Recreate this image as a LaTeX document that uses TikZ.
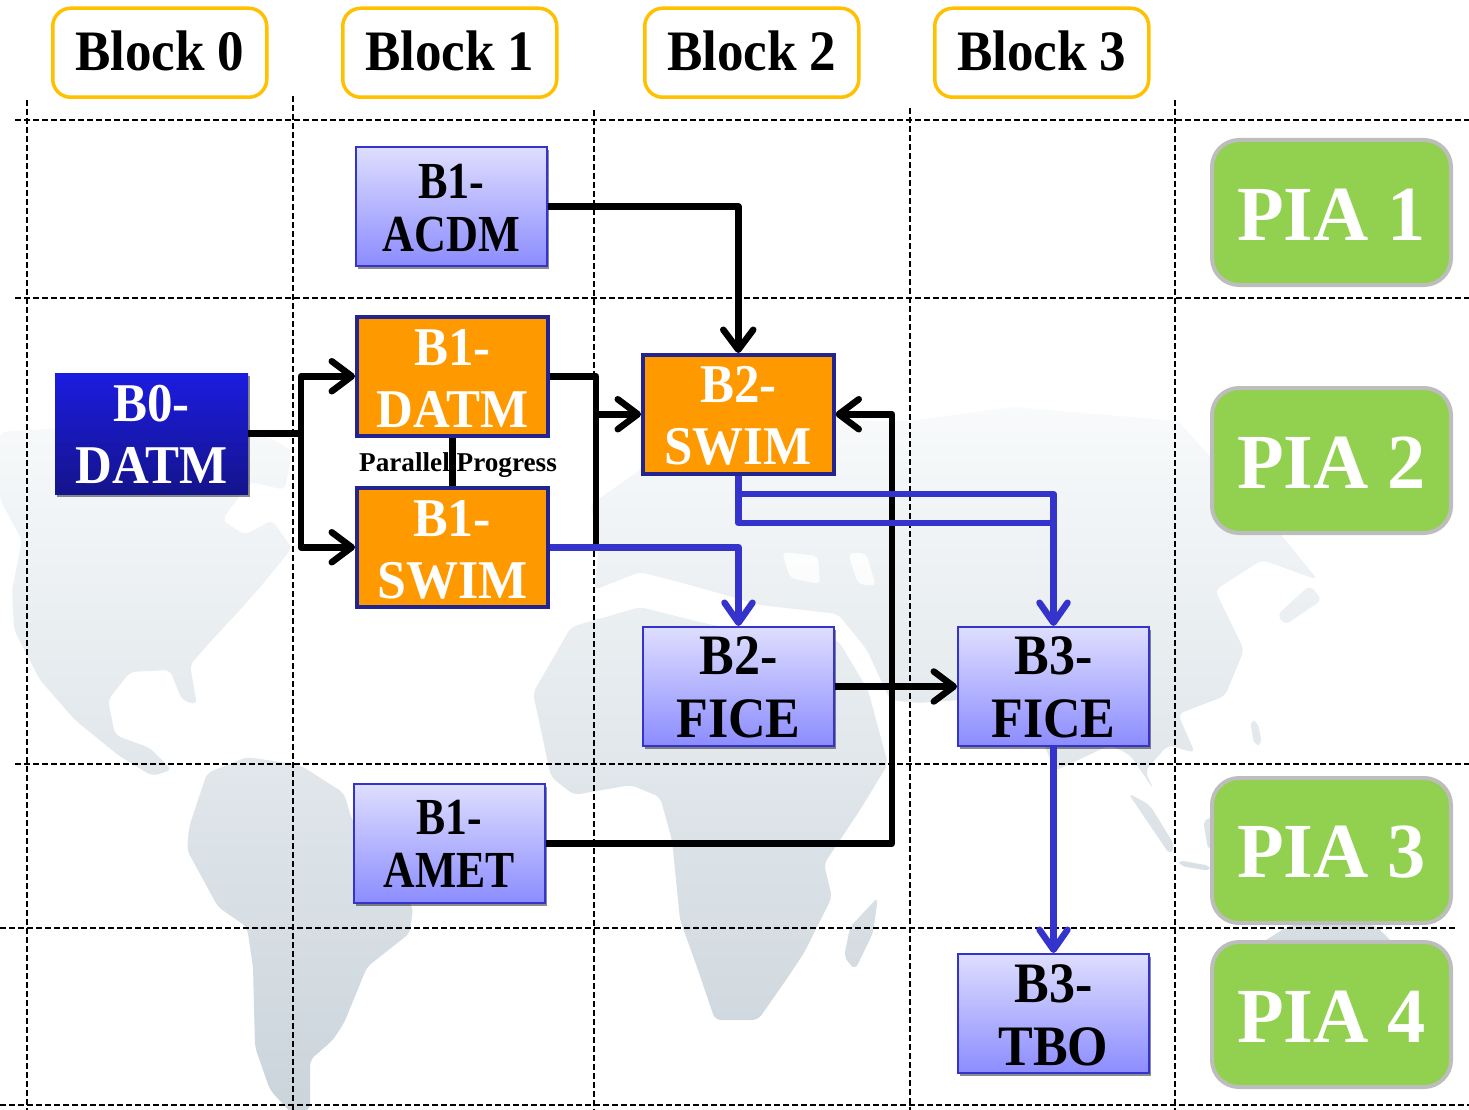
\documentclass[tikz,border=0pt]{standalone}
\usepackage{fontspec}
\setmainfont{Liberation Serif}
\usetikzlibrary{arrows.meta,shadows}
\definecolor{blueline}{HTML}{3434CC}
\definecolor{orangefill}{HTML}{FF9900}
\definecolor{orangeline}{HTML}{24248F}
\definecolor{blockline}{HTML}{FFC000}
\definecolor{piafill}{HTML}{92D050}
\definecolor{pialine}{HTML}{BDBDBD}
\definecolor{mapa}{HTML}{F8FAFB}
\definecolor{mapb}{HTML}{D3E3E7}
\definecolor{mapc}{HTML}{CAD4DB}
\definecolor{palea}{HTML}{DEDEFF}
\definecolor{paleb}{HTML}{8C8CFF}
\definecolor{darka}{HTML}{1C1CE0}
\definecolor{darkb}{HTML}{14148C}
% sx, sy, baseline, lowering, line 1, line 2
\newcommand{\twolines}[6]{\raisebox{-#4pt}[0pt][0pt]{\makebox[0pt]{\scalebox{#1}[#2]{\fontsize{52}{#3}\selectfont\bfseries\begin{tabular}{@{}c@{}}#5\\#6\end{tabular}}}}}
\newcommand{\blocktext}[1]{\raisebox{0pt}[\height][\dimexpr\depth+4pt]{\scalebox{1.02}[1.1]{\fontsize{52}{53}\selectfont\bfseries #1}}}
\newcommand{\piatext}[1]{\raisebox{0pt}[\dimexpr\height+4pt][\depth]{\scalebox{.98}[1]{\fontsize{78}{80}\selectfont\bfseries #1}}}
\tikzset{
  gridline/.style={line width=2.1pt,dash pattern=on 6pt off 3pt,black},
  taskbox/.style={rectangle,minimum width=191pt,minimum height=119pt,inner sep=0pt,anchor=north west},
  paleblue/.style={taskbox,draw=blueline,line width=2pt,top color=palea,bottom color=paleb,text=black,
    drop shadow={opacity=.45,fill=black,shadow xshift=1.5pt,shadow yshift=-3pt}},
  orangebox/.style={taskbox,draw=orangeline,line width=3.5pt,fill=orangefill,text=white},
  darkbox/.style={taskbox,minimum width=193pt,minimum height=121pt,top color=darka,bottom color=darkb,text=white,
    drop shadow={opacity=.45,fill=black,shadow xshift=1.5pt,shadow yshift=-3pt}},
  blockbox/.style={rectangle,rounded corners=18pt,draw=blockline,line width=3.5pt,fill=white,minimum width=214pt,minimum height=89pt,inner sep=0pt,anchor=north west},
  piabox/.style={rectangle,rounded corners=27pt,draw=pialine,line width=4pt,fill=piafill,minimum width=239pt,minimum height=145pt,inner sep=0pt,anchor=north west,text=white},
  blk/.style={draw=black,line width=6.5pt,line join=round},
  blu/.style={draw=blueline,line width=6.5pt,line join=round},
  blkarrow/.style={blk,-{Straight Barb[length=20pt,width=30pt,round]}},
  bluarrow/.style={blu,-{Straight Barb[length=20pt,width=28pt,round]}},
}
\begin{document}
\begin{tikzpicture}[x=1pt,y=-1pt]
\useasboundingbox (0,0) rectangle (1469,1110);
\clip (0,0) rectangle (1469,1110);
% world map background
\shade[rounded corners=6pt,top color=mapa,middle color=mapb,bottom color=mapc]
  % north america
  (0,432) -- (60,428) -- (120,445) -- (190,438) -- (250,428) -- (292,450) -- (285,490) -- (250,482) -- (222,520) -- (245,535) -- (272,520) -- (292,548) -- (262,585) -- (240,610) -- (212,640) -- (190,665) -- (197,705) -- (182,700) -- (170,670) -- (130,672) -- (108,700) -- (115,735) -- (150,748) -- (172,770) -- (152,776) -- (118,755) -- (75,720) -- (40,680) -- (14,630) -- (12,590) -- (22,540) -- (0,500) -- cycle
  % south america
  (247,757) -- (300,765) -- (344,793) -- (352,820) -- (413,907) -- (410,933) -- (367,967) -- (344,1023) -- (333,1040) -- (310,1060) -- (310,1110) -- (293,1115) -- (270,1090) -- (255,1047) -- (253,967) -- (247,927) -- (218,907) -- (187,850) -- (189,827) -- (207,773) -- cycle
  % africa
  (533,693) -- (571,627) -- (640,607) -- (700,622) -- (780,640) -- (838,640) -- (868,690) -- (888,764) -- (860,810) -- (824,864) -- (832,897) -- (804,953) -- (786,980) -- (758,1020) -- (715,1020) -- (697,967) -- (680,920) -- (672,840) -- (660,797) -- (631,785) -- (574,795) -- (551,777) -- cycle
  % madagascar
  (878,897) -- (873,933) -- (855,970) -- (844,957) -- (850,927) -- cycle
  % eurasia
  (594,590) -- (600,540) -- (590,505) -- (640,470) -- (680,432) -- (780,420) -- (909,421) -- (1013,407) -- (1178,421) -- (1282,536) -- (1318,580) -- (1290,570) -- (1262,560) -- (1215,590) -- (1244,650) -- (1225,696) -- (1178,714) -- (1195,753) -- (1168,745) -- (1145,771) -- (1154,790) -- (1130,755) -- (1110,745) -- (1055,771) -- (1030,710) -- (960,700) -- (919,703) -- (890,700) -- (867,650) -- (838,614) -- (760,605) -- (690,585) -- (640,572) -- cycle
  % japan
  (1310,585) -- (1322,600) -- (1285,625) -- (1277,615) -- cycle
  % sumatra, java, borneo, philippines
  (1128,793) -- (1150,805) -- (1175,846) -- (1170,855) -- cycle
  (1178,860) -- (1211,866) -- (1211,871) -- (1180,866) -- cycle
  (1203,820) -- (1222,815) -- (1225,850) -- (1208,850) -- cycle
  (1250,720) -- (1258,722) -- (1262,745) -- (1254,745) -- cycle
  % australia
  (1250,950) -- (1290,925) -- (1375,925) -- (1410,960) -- (1250,960) -- cycle;
% inner seas
\fill[white,opacity=.85,rounded corners=5pt] (782,552) -- (818,556) -- (820,584) -- (790,578) -- cycle
  (848,553) -- (866,553) -- (876,586) -- (858,584) -- cycle;
% grid
\foreach \gx/\gy in {27/100,293/96,594/110,910/108,1175/100} \draw[gridline] (\gx,\gy) -- (\gx,1110);
\foreach \gy/\gx/\gz in {120/15/1469,298/15/1469,764/15/1469,928/0/1456,1105/0/1469} \draw[gridline] (\gx,\gy) -- (\gz,\gy);
% block headers
\node[blockbox] (h0) at (51,6.5) {\blocktext{Block 0}};
\node[blockbox] (h1) at (341,6.5) {\blocktext{Block 1}};
\node[blockbox] (h2) at (643,6.5) {\blocktext{Block 2}};
\node[blockbox] (h3) at (933,6.5) {\blocktext{Block 3}};
% PIA
\node[piabox] (p1) at (1210,138) {\piatext{PIA 1}};
\node[piabox] (p2) at (1210,386) {\piatext{PIA 2}};
\node[piabox] (p3) at (1210,776) {\piatext{PIA 3}};
\node[piabox] (p4) at (1210,940) {\piatext{PIA 4}};
% task boxes
\node[paleblue] (acdm) at (355,146) {\twolines{.85}{1}{53}{14}{B1-}{ACDM}};
\node[orangebox] (datm) at (355,315) {\twolines{.98}{1.05}{59}{14}{B1-}{DATM}};
\node[orangebox] (swim) at (355,486) {\twolines{1}{1.05}{59}{14}{B1-}{SWIM}};
\node[darkbox] (bzero) at (55,373) {\twolines{.98}{1.05}{59}{13}{B0-}{DATM}};
\node[orangebox] (sw2) at (641,353) {\twolines{.98}{1.05}{59}{13.5}{B2-}{SWIM}};
\node[paleblue] (fi2) at (642,626) {\twolines{1}{1.1}{57}{14}{B2-}{FICE}};
\node[paleblue] (fi3) at (957,626) {\twolines{1}{1.1}{57}{14}{B3-}{FICE}};
\node[paleblue] (amet) at (353,783) {\twolines{.84}{1}{53}{13.5}{B1-}{AMET}};
\node[paleblue] (tbo) at (957,953) {\twolines{1}{1.1}{57}{15}{B3-}{TBO}};
% junctions
\coordinate (jz) at (301,433);
\coordinate (jd) at (596,547);
\coordinate (ja) at (892,414);
\coordinate (jt) at (fi3.north |- 0,494);
\coordinate (jb) at (fi3.north |- 0,523);
% label
\node[inner sep=0pt,font=\fontsize{27.2}{28}\selectfont\bfseries] (par) at (458,465) {Parallel Progress};
% connectors: black first, blue over them
\draw[blk] (datm.south) -- (swim.north);
\draw[blk] (bzero.east) -- (bzero.east -| jz);
\draw[blkarrow] (bzero.east -| jz) |- (datm.west);
\draw[blkarrow] (bzero.east -| jz) |- (swim.west);
\draw[blk] (datm.east) -| (swim.east -| jd);
\draw[blkarrow] (sw2.west -| jd) -- (sw2.west);
\draw[blkarrow] (acdm.east) -| (sw2.north);
\draw[blkarrow] (amet.east) -| (sw2.east -| ja) -- (sw2.east);
\draw[blkarrow] (fi2.east) -- (fi3.west);
\draw[blu] (sw2.south) |- (jb) -- (jt);
\draw[bluarrow] (sw2.south) |- (jt) -- (fi3.north);
\draw[bluarrow] (swim.east) -| (fi2.north);
\draw[bluarrow] (fi3.south) -- (tbo.north);
\end{tikzpicture}
\end{document}
